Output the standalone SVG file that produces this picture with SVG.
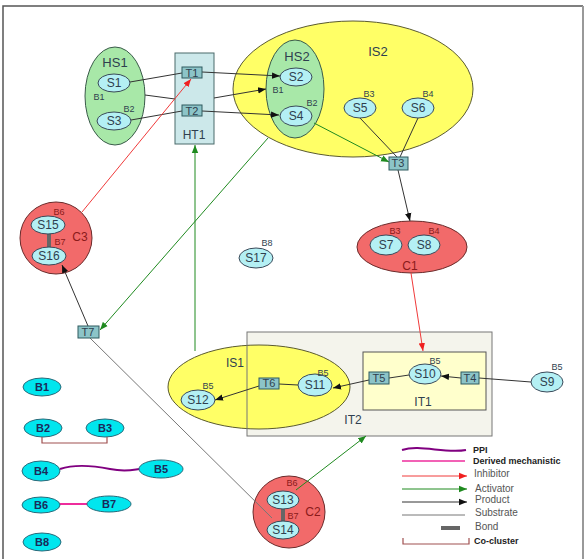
<svg xmlns="http://www.w3.org/2000/svg" width="586" height="559" viewBox="0 0 586 559">
<style>
text{font-family:"Liberation Sans",Arial,sans-serif;text-anchor:middle;fill:#2f3f4f}
.s{font-size:12px}
.b{font-size:9px}
.l{font-size:13px}
.t{font-size:11px}
.sn{fill:#b4f0f4;stroke:#3a4a5a;stroke-width:1}
.tn{fill:#8cc4c8;stroke:#2f5a5f;stroke-width:1}
.gr{fill:#a8e8a8;stroke:#3a5a4a;stroke-width:1}
.ye{fill:#ffff66;stroke:#5a5a30;stroke-width:1}
.rd{fill:#f26a6a;stroke:#6a2a2a;stroke-width:1}
.bn{fill:#00e6ee;stroke:#2a6a7a;stroke-width:1}
.bt{font-size:11px;font-weight:bold;fill:#1a2a5a}
.rt{fill:#8a1a1a}
.c{fill:none;stroke:#333;stroke-width:1}
.cg{fill:none;stroke:#1f8a1f;stroke-width:1}
.cr{fill:none;stroke:#f03a3a;stroke-width:1}
.cs{fill:none;stroke:#777;stroke-width:1}
.bond{stroke:#666;stroke-width:4}
.lg{font-size:10px;text-anchor:start;fill:#555}
.lgb{font-size:9px;text-anchor:start;font-weight:bold;fill:#222}
</style>
<defs>
<marker id="ak" viewBox="0 0 10 10" refX="10" refY="5" markerWidth="8" markerHeight="8" orient="auto" markerUnits="userSpaceOnUse"><path d="M0,1L10,5L0,9z" fill="#111"/></marker>
<marker id="ag" viewBox="0 0 10 10" refX="10" refY="5" markerWidth="8" markerHeight="8" orient="auto" markerUnits="userSpaceOnUse"><path d="M0,1L10,5L0,9z" fill="#1f8a1f"/></marker>
<marker id="ar" viewBox="0 0 10 10" refX="10" refY="5" markerWidth="8" markerHeight="8" orient="auto" markerUnits="userSpaceOnUse"><path d="M0,1L10,5L0,9z" fill="#f02020"/></marker>
</defs>
<rect width="586" height="559" fill="#fff"/>
<path d="M3,559V6H583" fill="none" stroke="#555" stroke-width="1.5"/>
<path d="M583,6V559" fill="none" stroke="#999" stroke-width="2"/>

<g id="IS2"><ellipse cx="353" cy="89" rx="120" ry="68" class="ye"/><text x="378" y="56" class="l">IS2</text></g>
<g id="HS2"><ellipse cx="295" cy="89" rx="29" ry="49" class="gr"/><text x="297" y="61" class="l">HS2</text><text x="278" y="93" class="b">B1</text><text x="312" y="106" class="b">B2</text></g>
<g id="HS1"><ellipse cx="115" cy="96" rx="30" ry="49" class="gr"/><text x="115" y="67" class="l">HS1</text><text x="99" y="100" class="b">B1</text><text x="129" y="112" class="b">B2</text></g>
<g id="HT1"><rect x="175" y="53" width="39" height="91" fill="#cce8ea" stroke="#4a6a6a"/><text x="194" y="139" class="s">HT1</text></g>
<g id="C1"><ellipse cx="412" cy="247" rx="55" ry="26" class="rd"/><text x="410" y="270" class="s rt">C1</text><text x="395" y="234" class="b rt">B3</text><text x="434" y="234" class="b rt">B4</text></g>
<g id="C3"><circle cx="56" cy="238" r="36" class="rd"/><text x="80" y="241" class="s rt">C3</text><text x="59" y="215" class="b rt">B6</text><text x="60" y="245" class="b rt">B7</text><line x1="49" y1="233" x2="49" y2="248" class="bond"/></g>
<g id="C2"><circle cx="289" cy="512" r="36" class="rd"/><text x="313" y="516" class="s rt">C2</text><text x="292" y="486" class="b rt">B6</text><text x="293" y="519" class="b rt">B7</text><line x1="283" y1="508" x2="283" y2="522" class="bond"/></g>
<g id="IT2"><rect x="247" y="332" width="245" height="104" fill="#f4f4ec" stroke="none"/></g>
<g id="IS1"><ellipse cx="259" cy="387" rx="91" ry="42" class="ye"/><text x="235" y="367" class="s">IS1</text></g>
<g id="IT2-frame"><rect x="247" y="332" width="245" height="104" fill="none" stroke="#777"/><text x="353" y="424" class="s">IT2</text></g>
<g id="IT1"><rect x="363" y="352" width="123" height="58" fill="#ffffcc" stroke="#555"/><text x="423" y="406" class="s">IT1</text></g>

<g id="connectors">
<line x1="130" y1="82" x2="182" y2="73" class="c"/>
<line x1="202" y1="72" x2="280" y2="76" class="c" marker-end="url(#ak)"/>
<line x1="145" y1="95" x2="175" y2="99" class="c"/>
<line x1="214" y1="98" x2="266" y2="89" class="c" marker-end="url(#ak)"/>
<line x1="131" y1="120" x2="182" y2="111" class="c"/>
<line x1="202" y1="111" x2="279" y2="115" class="c" marker-end="url(#ak)"/>
<line x1="360" y1="118" x2="397" y2="157" class="c" stroke="#555"/>
<line x1="418" y1="118" x2="400" y2="157" class="c" stroke="#555"/>
<line x1="314" y1="123" x2="389" y2="162" class="cg" marker-end="url(#ag)"/>
<line x1="398" y1="170" x2="410" y2="221" class="c" marker-end="url(#ak)"/>
<line x1="411" y1="273" x2="423" y2="351" class="cr" marker-end="url(#ar)"/>
<line x1="531" y1="382" x2="479" y2="378" class="c"/>
<line x1="461" y1="378" x2="441" y2="376" class="c" marker-end="url(#ak)"/>
<line x1="409" y1="375" x2="389" y2="378" class="c"/>
<line x1="369" y1="380" x2="333" y2="388" class="c" marker-end="url(#ak)"/>
<line x1="298" y1="385" x2="279" y2="384" class="c"/>
<line x1="259" y1="386" x2="215" y2="400" class="c" marker-end="url(#ak)"/>
<line x1="195" y1="351" x2="195" y2="145" class="cg" marker-end="url(#ag)"/>
<line x1="268" y1="138" x2="100" y2="330" class="cg" marker-end="url(#ag)"/>
<line x1="88" y1="326" x2="62" y2="265" class="c" marker-end="url(#ak)"/>
<line x1="82" y1="212" x2="191" y2="79" class="cr" marker-end="url(#ar)"/>
<line x1="90" y1="338" x2="272" y2="518" class="cs"/>
<line x1="296" y1="490" x2="366" y2="436" class="cg" marker-end="url(#ag)"/>
</g>

<g id="S1"><ellipse cx="114" cy="83" rx="16" ry="9" class="sn"/><text x="114" y="87" class="s">S1</text></g>
<g id="S3"><ellipse cx="114" cy="121" rx="17" ry="9" class="sn"/><text x="114" y="125" class="s">S3</text></g>
<g id="T1"><rect x="182" y="67" width="20" height="11" class="tn"/><text x="192" y="77" class="t">T1</text></g>
<g id="T2"><rect x="182" y="105" width="20" height="11" class="tn"/><text x="192" y="115" class="t">T2</text></g>
<g id="S2"><ellipse cx="296" cy="77" rx="16" ry="9" class="sn"/><text x="296" y="81" class="s">S2</text></g>
<g id="S4"><ellipse cx="296" cy="116" rx="16" ry="10" class="sn"/><text x="296" y="120" class="s">S4</text></g>
<g id="S5"><ellipse cx="360" cy="108" rx="16" ry="10" class="sn"/><text x="360" y="112" class="s">S5</text><text x="369" y="97" class="b">B3</text></g>
<g id="S6"><ellipse cx="418" cy="108" rx="16" ry="10" class="sn"/><text x="418" y="112" class="s">S6</text><text x="428" y="97" class="b">B4</text></g>
<g id="T3"><rect x="389" y="157" width="19" height="13" class="tn"/><text x="398" y="167" class="t">T3</text></g>
<g id="S7"><ellipse cx="386" cy="245" rx="16" ry="10" class="sn"/><text x="386" y="249" class="s">S7</text></g>
<g id="S8"><ellipse cx="424" cy="245" rx="16" ry="10" class="sn"/><text x="424" y="249" class="s">S8</text></g>
<g id="S17"><ellipse cx="256" cy="258" rx="17" ry="10" class="sn"/><text x="256" y="262" class="s">S17</text><text x="267" y="246" class="b">B8</text></g>
<g id="S15"><ellipse cx="48" cy="225" rx="17" ry="9" class="sn"/><text x="48" y="229" class="s">S15</text></g>
<g id="S16"><ellipse cx="49" cy="256" rx="17" ry="9" class="sn"/><text x="49" y="260" class="s">S16</text></g>
<g id="T7"><rect x="78" y="326" width="21" height="12" class="tn"/><text x="88" y="336" class="t">T7</text></g>
<g id="S13"><ellipse cx="283" cy="500" rx="16" ry="9" class="sn"/><text x="283" y="504" class="s">S13</text></g>
<g id="S14"><ellipse cx="283" cy="530" rx="16" ry="9" class="sn"/><text x="283" y="534" class="s">S14</text></g>
<g id="T6"><rect x="259" y="378" width="20" height="11" class="tn"/><text x="269" y="387" class="t">T6</text></g>
<g id="T5"><rect x="369" y="372" width="20" height="12" class="tn"/><text x="379" y="382" class="t">T5</text></g>
<g id="T4"><rect x="461" y="372" width="18" height="12" class="tn"/><text x="470" y="382" class="t">T4</text></g>
<g id="S11"><ellipse cx="315" cy="385" rx="17" ry="11" class="sn"/><text x="315" y="389" class="s">S11</text><text x="323" y="376" class="b">B5</text></g>
<g id="S12"><ellipse cx="198" cy="400" rx="17" ry="10" class="sn"/><text x="198" y="404" class="s">S12</text><text x="208" y="389" class="b">B5</text></g>
<g id="S10"><ellipse cx="425" cy="374" rx="16" ry="10" class="sn"/><text x="425" y="378" class="s">S10</text><text x="435" y="364" class="b">B5</text></g>
<g id="S9"><ellipse cx="547" cy="382" rx="16" ry="10" class="sn"/><text x="547" y="386" class="s">S9</text><text x="557" y="370" class="b">B5</text></g>

<g id="legend-binding">
<g id="B1"><ellipse cx="42" cy="387" rx="19" ry="9" class="bn"/><text x="42" y="391" class="bt">B1</text></g>
<g id="B2"><ellipse cx="43" cy="428" rx="19" ry="9" class="bn"/><text x="43" y="432" class="bt">B2</text></g>
<g id="B3"><ellipse cx="105" cy="428" rx="19" ry="9" class="bn"/><text x="105" y="432" class="bt">B3</text></g>
<path d="M42,437V443H107V437" fill="none" stroke="#a05050" stroke-width="1.2"/>
<path d="M60,469C75,464 95,466 110,469S132,470 139,469" fill="none" stroke="#800080" stroke-width="2"/>
<g id="B4"><ellipse cx="41" cy="471" rx="19" ry="10" class="bn"/><text x="41" y="475" class="bt">B4</text></g>
<g id="B5"><ellipse cx="161" cy="469" rx="22" ry="9" class="bn"/><text x="161" y="473" class="bt">B5</text></g>
<line x1="60" y1="504" x2="87" y2="504" stroke="#ee2c9c" stroke-width="2"/>
<g id="B6"><ellipse cx="41" cy="505" rx="19" ry="8" class="bn"/><text x="41" y="509" class="bt">B6</text></g>
<g id="B7"><ellipse cx="109" cy="504" rx="22" ry="8" class="bn"/><text x="109" y="508" class="bt">B7</text></g>
<g id="B8"><ellipse cx="42" cy="542" rx="19" ry="9" class="bn"/><text x="42" y="546" class="bt">B8</text></g>
</g>

<g id="legend">
<path d="M402,450C420,444 445,454 466,450" fill="none" stroke="#800080" stroke-width="2"/>
<text x="473" y="453" class="lgb">PPI</text>
<line x1="402" y1="461" x2="465" y2="461" stroke="#ee2c9c" stroke-width="1.5"/>
<text x="473" y="464" class="lgb">Derived mechanistic</text>
<line x1="402" y1="476" x2="467" y2="476" class="cr" marker-end="url(#ar)"/>
<text x="474" y="477" class="lg">Inhibitor</text>
<line x1="402" y1="489" x2="467" y2="489" class="cg" marker-end="url(#ag)"/>
<text x="475" y="492" class="lg">Activator</text>
<line x1="402" y1="502" x2="467" y2="502" class="c" marker-end="url(#ak)"/>
<text x="475" y="503" class="lg">Product</text>
<line x1="402" y1="515" x2="465" y2="515" class="cs"/>
<text x="475" y="516" class="lg">Substrate</text>
<line x1="441" y1="528" x2="460" y2="528" class="bond"/>
<text x="475" y="530" class="lg">Bond</text>
<path d="M403,538V544H469V538" fill="none" stroke="#a05050" stroke-width="1.2"/>
<text x="474" y="544" class="lgb">Co-cluster</text>
</g>
</svg>
